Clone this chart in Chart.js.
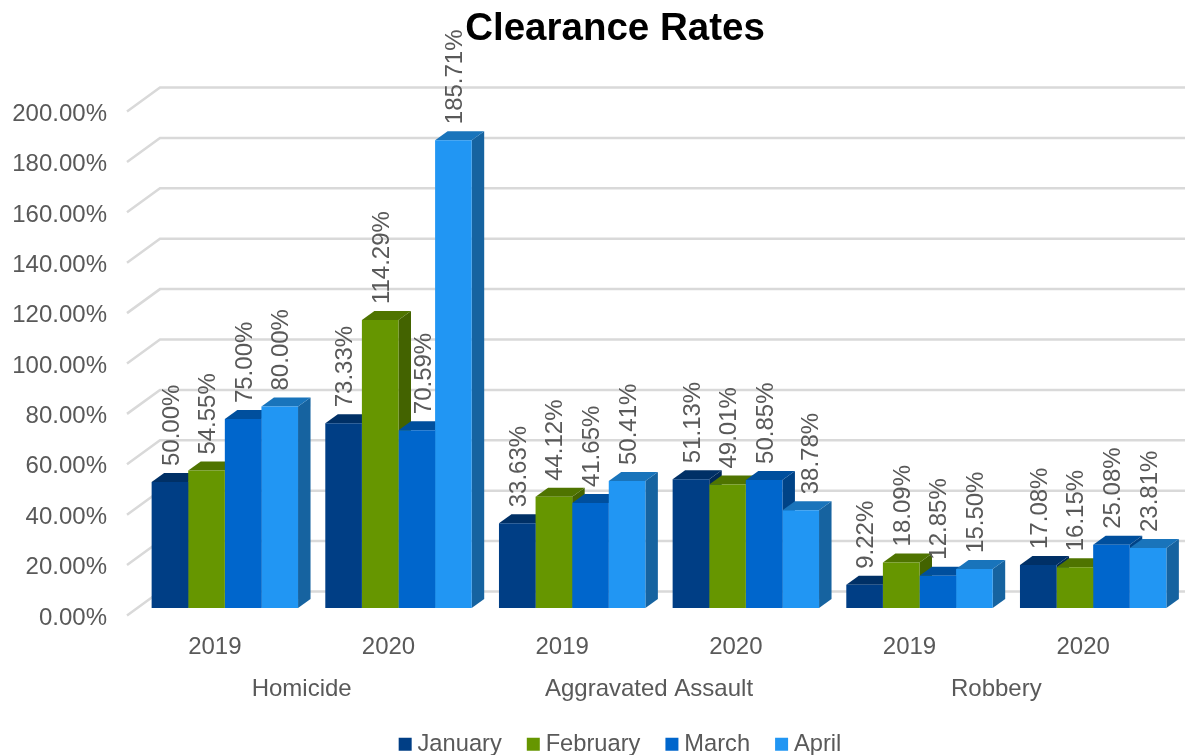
<!DOCTYPE html>
<html>
<head>
<meta charset="utf-8">
<style>html,body{margin:0;padding:0;background:#fff;overflow:hidden}canvas{display:block}</style>
<script src="https://cdn.jsdelivr.net/npm/chart.js@4/dist/chart.umd.min.js"></script>
</head>
<body>
<canvas id="c" width="1185" height="755"></canvas>
<script>
const years = ['2019','2020','2019','2020','2019','2020'];
const crimes = ['Homicide','Aggravated Assault','Robbery'];
const january  = [50.00, 73.33, 33.63, 51.13, 9.22, 17.08];
const february = [54.55, 114.29, 44.12, 49.01, 18.09, 16.15];
const march    = [75.00, 70.59, 41.65, 50.85, 12.85, 25.08];
const april    = [80.00, 185.71, 50.41, 38.78, 15.50, 23.81];
const fontName = '"Liberation Sans", Arial, sans-serif';
const textColor = '#595959';
const gridColor = '#d9d9d9';
const pct = v => Number(v).toFixed(2) + '%';
const shade = (hex, k) => {
  const n = parseInt(hex.slice(1), 16);
  return `rgb(${Math.round((n>>16&255)*k)},${Math.round((n>>8&255)*k)},${Math.round((n&255)*k)})`;
};

const wall = {
  id: 'wall',
  afterLayout(chart) {
    chart.titleBlock.left += 50;
    chart.legend.left += 66;
    chart.legend.top -= 19.5;
  },
  beforeDatasetsDraw(chart) {
    const {ctx, scales: {y}} = chart;
    ctx.save();
    ctx.strokeStyle = gridColor;
    ctx.lineWidth = 2.5;
    y.ticks.forEach(t => {
      const p = y.getPixelForValue(t.value);
      ctx.beginPath();
      ctx.moveTo(127, p + 7.4);
      ctx.lineTo(160, p - 16.6);
      ctx.lineTo(1185, p - 16.6);
      ctx.stroke();
    });
    const dx = 12.5, dy = 9;
    chart.data.datasets.forEach((ds, i) => {
      chart.getDatasetMeta(i).data.forEach(b => {
        const l = b.x - b.width / 2, r = b.x + b.width / 2, t = b.y, bot = b.base;
        ctx.fillStyle = shade(ds.backgroundColor, 0.66);
        ctx.beginPath();
        ctx.moveTo(r, t); ctx.lineTo(r + dx, t - dy); ctx.lineTo(r + dx, bot - dy); ctx.lineTo(r, bot);
        ctx.closePath(); ctx.fill();
        ctx.fillStyle = shade(ds.backgroundColor, 0.77);
        ctx.beginPath();
        ctx.moveTo(l, t); ctx.lineTo(l + dx, t - dy); ctx.lineTo(r + dx, t - dy); ctx.lineTo(r, t);
        ctx.closePath(); ctx.fill();
      });
    });
    ctx.restore();
  },
  afterDatasetsDraw(chart) {
    const {ctx} = chart;
    // two labels sit beside their bar's centre in the reference, to clear the neighbouring bar
    const sideways = {'2:1': 5.5, '3:3': 9};
    ctx.save();
    ctx.fillStyle = textColor;
    ctx.font = '24px ' + fontName;
    ctx.textAlign = 'left';
    ctx.textBaseline = 'middle';
    chart.data.datasets.forEach((ds, i) => {
      chart.getDatasetMeta(i).data.forEach((b, j) => {
        ctx.save();
        ctx.translate(b.x + 2 + (sideways[i + ':' + j] || 0), b.y - 16);
        ctx.rotate(-Math.PI / 2);
        ctx.fillText(pct(ds.data[j]), 0, 0);
        ctx.restore();
      });
    });
    ctx.restore();
  }
};

new Chart(document.getElementById('c'), {
  type: 'bar',
  plugins: [wall],
  data: {
    labels: years,
    datasets: [
      {label: 'January',  data: january,  backgroundColor: '#003e85'},
      {label: 'February', data: february, backgroundColor: '#669600'},
      {label: 'March',    data: march,    backgroundColor: '#0066cc'},
      {label: 'April',    data: april,    backgroundColor: '#2196f3'}
    ]
  },
  options: {
    responsive: false,
    animation: false,
    layout: {padding: {right: 5}},
    datasets: {bar: {categoryPercentage: 0.843, barPercentage: 1}},
    plugins: {
      tooltip: {enabled: false},
      title: {
        display: true, text: 'Clearance Rates', color: '#000',
        font: {family: fontName, size: 38.5, weight: 'bold'},
        padding: {top: 6, bottom: 52}
      },
      legend: {
        position: 'bottom',
        maxHeight: 34,
        labels: {
          color: textColor, font: {family: fontName, size: 23.7},
          usePointStyle: true, pointStyle: 'rect', boxWidth: 1, boxHeight: 13, padding: 31
        }
      }
    },
    scales: {
      y: {
        min: 0, max: 200,
        grid: {display: false, drawTicks: false},
        border: {display: false},
        afterFit(s) { s.width = 138; },
        ticks: {
          stepSize: 20, color: textColor, padding: 31, labelOffset: 10,
          font: {family: fontName, size: 24}, callback: pct
        }
      },
      x: {
        grid: {display: false, drawTicks: false}, border: {display: false},
        afterFit(s) { s.height = 60; },
        ticks: {
          color: textColor, padding: 25, labelOffset: -10, maxRotation: 0, autoSkip: false,
          font: {family: fontName, size: 24}
        }
      },
      x2: {
        type: 'category', labels: crimes, position: 'bottom', offset: true,
        grid: {display: false, drawTicks: false}, border: {display: false},
        afterFit(s) { s.height = 53; },
        ticks: {
          color: textColor, padding: 7, labelOffset: -10, maxRotation: 0, autoSkip: false,
          font: {family: fontName, size: 24}
        }
      }
    }
  }
});
</script>
</body>
</html>
